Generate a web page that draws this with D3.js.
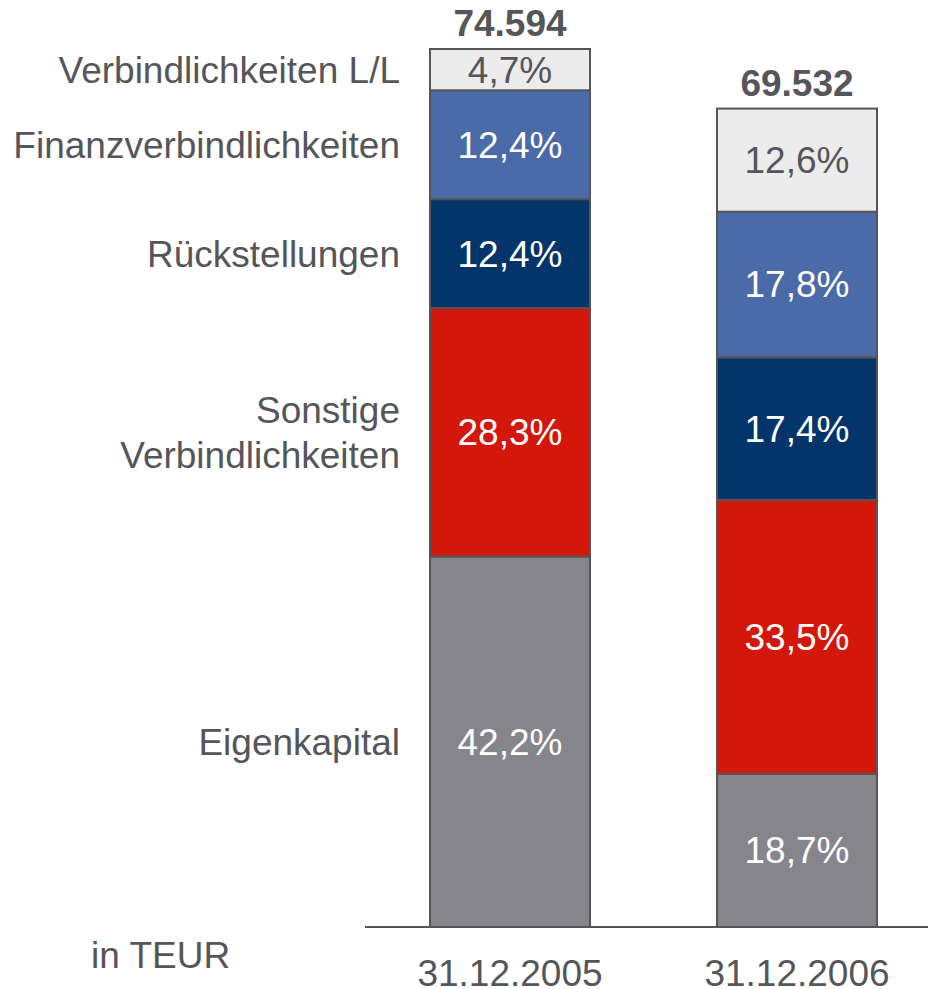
<!DOCTYPE html>
<html>
<head>
<meta charset="utf-8">
<script src="https://cdn.jsdelivr.net/npm/d3@7"></script>
<style>
  body { margin: 0; background: #fff; }
  svg { font-family: "Liberation Sans", Arial, sans-serif; }
</style>
</head>
<body>
<svg id="chart" width="928" height="989"></svg>
<script>
// dates on the x axis
const dates = ["31.12.2005", "31.12.2006"];
// balance sheet totals in TEUR
const totals = [74594, 69532];
// segments, bottom to top
const segments = ["Eigenkapital", "Sonstige Verbindlichkeiten", "Rückstellungen", "Finanzverbindlichkeiten", "Verbindlichkeiten L/L"];
const segmentLabels = [["Eigenkapital"], ["Sonstige", "Verbindlichkeiten"], ["Rückstellungen"], ["Finanzverbindlichkeiten"], ["Verbindlichkeiten L/L"]];
// shares in percent, per date
const share2005 = [42.2, 28.3, 12.4, 12.4, 4.7];
const share2006 = [18.7, 33.5, 17.4, 17.8, 12.6];
const colors = ["#86858b", "#d4170b", "#03356a", "#4a6aa8", "#ececec"];
const textColors = ["#fff", "#fff", "#fff", "#fff", "#55555a"];

const svg = d3.select("#chart");
const ink = "#55555a";
const fontSize = 37;

// build the table for d3.stack: shares turned into TEUR
const rows = dates.map((d, i) => {
    const shares = i === 0 ? share2005 : share2006;
    const row = { date: d, total: totals[i] };
    segments.forEach((s, j) => { row[s] = shares[j] / 100 * totals[i]; row[s + "_pct"] = shares[j]; });
    return row;
});

const stack = d3.stack().keys(segments);
const series = stack(rows);

const x = d3.scaleBand()
    .domain(dates)
    .range([430, 877])
    .paddingInner(0.4425)
    .paddingOuter(0);

const y = d3.scaleLinear()
    .domain([0, d3.max(totals)])
    .range([927, 49]);

const fmtPct = v => d3.format(".1f")(v).replace(".", ",") + "%";
const fmtTotal = v => d3.format(",")(v).replace(/,/g, ".");

// bars
const groups = svg.selectAll("g.seg")
    .data(series)
    .join("g")
    .attr("class", "seg");

groups.selectAll("rect")
    .data((s, j) => s.map(d => ({ d, j, key: s.key })))
    .join("rect")
    .attr("x", o => x(o.d.data.date))
    .attr("y", o => y(o.d[1]))
    .attr("width", x.bandwidth())
    .attr("height", o => y(o.d[0]) - y(o.d[1]))
    .attr("fill", o => colors[o.j])
    .attr("stroke", "#555558")
    .attr("stroke-width", 2);

groups.selectAll("text")
    .data((s, j) => s.map(d => ({ d, j, key: s.key })))
    .join("text")
    .attr("x", o => x(o.d.data.date) + x.bandwidth() / 2)
    .attr("y", o => (y(o.d[0]) + y(o.d[1])) / 2)
    .attr("dy", "0.35em")
    .attr("text-anchor", "middle")
    .attr("font-size", fontSize)
    .attr("fill", o => textColors[o.j])
    .text(o => fmtPct(o.d.data[o.key + "_pct"]));

// baseline
svg.append("line")
    .attr("x1", 365).attr("x2", 928)
    .attr("y1", y(0)).attr("y2", y(0))
    .attr("stroke", "#555558")
    .attr("stroke-width", 2);

// totals on top
svg.selectAll("text.total")
    .data(rows)
    .join("text")
    .attr("class", "total")
    .attr("x", d => x(d.date) + x.bandwidth() / 2)
    .attr("y", d => y(d.total) - 13)
    .attr("text-anchor", "middle")
    .attr("font-size", fontSize)
    .attr("font-weight", "bold")
    .attr("fill", ink)
    .text(d => fmtTotal(d.total));

// x axis labels
svg.selectAll("text.date")
    .data(dates)
    .join("text")
    .attr("class", "date")
    .attr("x", d => x(d) + x.bandwidth() / 2)
    .attr("y", 986)
    .attr("text-anchor", "middle")
    .attr("font-size", fontSize)
    .attr("fill", ink)
    .text(d => d);

// category labels next to the first bar
const first = series.map(s => s[0]);
const catLabels = svg.selectAll("text.cat")
    .data(segmentLabels)
    .join("text")
    .attr("class", "cat")
    .attr("text-anchor", "end")
    .attr("font-size", fontSize)
    .attr("fill", ink)
    .attr("transform", (l, j) => `translate(400,${(y(first[j][0]) + y(first[j][1])) / 2})`);

catLabels.selectAll("tspan")
    .data(l => l.map((t, k) => ({ t, k, n: l.length })))
    .join("tspan")
    .attr("x", 0)
    .attr("y", o => (o.k - (o.n - 1) / 2) * 45)
    .attr("dy", "0.35em")
    .text(o => o.t);

svg.append("text")
    .attr("x", 91)
    .attr("y", 968)
    .attr("font-size", fontSize)
    .attr("fill", ink)
    .text("in TEUR");
</script>
</body>
</html>
